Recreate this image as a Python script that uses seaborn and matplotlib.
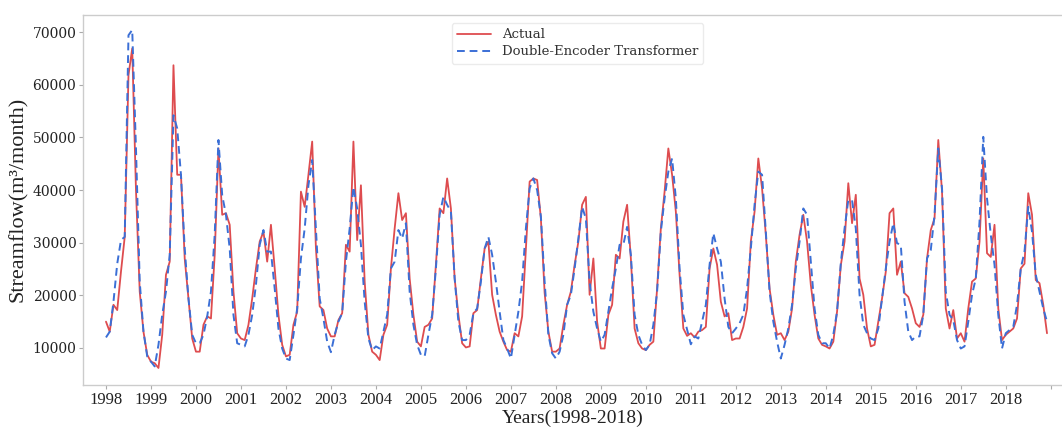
import numpy as np
import pandas as pd
import matplotlib
matplotlib.use("Agg")
import matplotlib.pyplot as plt
import seaborn as sns

# Monthly streamflow, Jan 1998 .. Dec 2018
actual = [
    15000, 13100, 18200, 17200, 24500, 31100, 61800, 66900, 40000, 20700, 13100, 8700,   # 1998
    7400, 7100, 6200, 12500, 23900, 26400, 63700, 42900, 42900, 27000, 19400, 11800,      # 1999
    9300, 9300, 14400, 16000, 15600, 27700, 47900, 35300, 35600, 33400, 20700, 12800,     # 2000
    11800, 11500, 14400, 19400, 25100, 30200, 32100, 26400, 33400, 25100, 16300, 10600,   # 2001
    8400, 8700, 14400, 16900, 39700, 36800, 42900, 49200, 28900, 17900, 17200, 13700,     # 2002
    12200, 12200, 15300, 16600, 29600, 28300, 49200, 30500, 40900, 22600, 12500, 9300,    # 2003
    8700, 7700, 12500, 14400, 25100, 32700, 39400, 34300, 35600, 23200, 16300, 11200,     # 2004
    10300, 14000, 14400, 15600, 25800, 36500, 35600, 42200, 36500, 23200, 16300, 10900,   # 2005
    10100, 10300, 16600, 17200, 23200, 28900, 30200, 20100, 16300, 13100, 11200, 9600,    # 2006
    9300, 12800, 12200, 16000, 28900, 41600, 42200, 41900, 34600, 20500, 13100, 9300,     # 2007
    9300, 9900, 14400, 18200, 20700, 25800, 30200, 37200, 38700, 20100, 27000, 15000,     # 2008
    9900, 9900, 16300, 18200, 27700, 27000, 34000, 37200, 27000, 13700, 10900, 9900,      # 2009
    9600, 10600, 11200, 21300, 32700, 39700, 47900, 42900, 35900, 23900, 13700, 12300,    # 2010
    12800, 12000, 13100, 13400, 14000, 25100, 28900, 25800, 18800, 16000, 16600, 11500,   # 2011
    11800, 11800, 14000, 17500, 30200, 35900, 46000, 40300, 31500, 21300, 16300, 12500,   # 2012
    12800, 11500, 13100, 17500, 26400, 31500, 35300, 30200, 22000, 16300, 11800, 10600,   # 2013
    10300, 9900, 11200, 16900, 25700, 30200, 41300, 33700, 39100, 23200, 20100, 13700,    # 2014
    10300, 10600, 15000, 19400, 24500, 35600, 36500, 23900, 26400, 20400, 19700, 17500,   # 2015
    14700, 14000, 16300, 27000, 32400, 34600, 49500, 39700, 17500, 13700, 17200, 11800,   # 2016
    12800, 11200, 17500, 22600, 23200, 30200, 46000, 28000, 27300, 33400, 17500, 11500,   # 2017
    12500, 13100, 13700, 15600, 25100, 26000, 39400, 35300, 22900, 22300, 18200, 12800,   # 2018
]

predicted = [
    12000, 13100, 18800, 26000, 30500, 31100, 69400, 70400, 47900, 22600, 13100, 8400,    # 1998
    7400, 6500, 10600, 16300, 20700, 27700, 54200, 51700, 42900, 28900, 19400, 12500,     # 1999
    10900, 10900, 12500, 16000, 20700, 31500, 49500, 39000, 35300, 28900, 16300, 10900,   # 2000
    10600, 10300, 12500, 16300, 22000, 29600, 32400, 28300, 28300, 21300, 13700, 9900,    # 2001
    8000, 7700, 12500, 17500, 27000, 32700, 40900, 45700, 32700, 19400, 15600, 11200,     # 2002
    9200, 12500, 15000, 16600, 26400, 32700, 40600, 36500, 29600, 18800, 11800, 9600,     # 2003
    10300, 9900, 13100, 16300, 25100, 26400, 32400, 30800, 33700, 20700, 14400, 10600,    # 2004
    8700, 8400, 12500, 16300, 25100, 35300, 38700, 37200, 35900, 23200, 15000, 11500,     # 2005
    11500, 12500, 16600, 17500, 22600, 28900, 31100, 27700, 22600, 16900, 11500, 9900,    # 2006
    8000, 12500, 16900, 22600, 32700, 40300, 42200, 40000, 35000, 22600, 12500, 9000,     # 2007
    8000, 9300, 12500, 18200, 20100, 25100, 30800, 36800, 34600, 22600, 16900, 13700,     # 2008
    11200, 12500, 16900, 21300, 25100, 29600, 29600, 33000, 27700, 16300, 12500, 10600,   # 2009
    9600, 10600, 14400, 20700, 32100, 38400, 43500, 46000, 38400, 25100, 16300, 13500,    # 2010
    10700, 12200, 11800, 15000, 18200, 25800, 31800, 28900, 26400, 19400, 14000, 12800,   # 2011
    13700, 14700, 16300, 21300, 28900, 37200, 43500, 42900, 32100, 20700, 15000, 11200,   # 2012
    8000, 10600, 13700, 18200, 25100, 30200, 36500, 35300, 26400, 17500, 12500, 10900,    # 2013
    10900, 9900, 12500, 16900, 26100, 32700, 38100, 38100, 32700, 20100, 14400, 12800,    # 2014
    11800, 11500, 13700, 19400, 25100, 30200, 33700, 29900, 29600, 18800, 13100, 11500,   # 2015
    12200, 12200, 16300, 27000, 28600, 35300, 47900, 40300, 20700, 16300, 15300, 11500,   # 2016
    9900, 10300, 15000, 20100, 23200, 34000, 50100, 38400, 31500, 25800, 16300, 9900,     # 2017
    12800, 13400, 14000, 18200, 25100, 28300, 36800, 32100, 23900, 20700, 17500, 15000,   # 2018
]

year_ticks = list(range(1998, 2020))
year_labels = [str(y) for y in range(1998, 2019)] + [""]
y_ticks = [10000, 20000, 30000, 40000, 50000, 60000, 70000]

months = np.arange(len(actual))
t = 1998 + months / 12.0
df = pd.DataFrame({"t": t, "Actual": actual, "Double-Encoder Transformer": predicted})

sns.set_style("ticks")
fig = plt.figure(figsize=(10.62, 4.28), dpi=100)
ax = fig.add_axes([0.0784, 0.1005, 0.9216, 0.8655])

sns.lineplot(data=df, x="t", y="Actual", ax=ax, color="#de4c4f", linewidth=1.3,
             label="Actual")
sns.lineplot(data=df, x="t", y="Double-Encoder Transformer", ax=ax, color="#3b6fd6",
             linewidth=1.4, linestyle=(0, (4, 2.5)), label="Double-Encoder Transformer")

ax.set_xlim(1997.495, 2019.25)
ax.set_ylim(2970, 73330)
ax.set_xticks(year_ticks)
ax.set_xticklabels(year_labels, fontfamily="Liberation Serif", fontsize=12, color="#222222")
ax.set_yticks(y_ticks)
ax.set_yticklabels([str(v) for v in y_ticks], fontfamily="DejaVu Serif", fontsize=10,
                   color="#222222")
ax.tick_params(axis="both", length=3, width=0.8, color="#aaaaaa", pad=2)

for side in ["left", "bottom", "top"]:
    ax.spines[side].set_color("#cccccc")
    ax.spines[side].set_linewidth(1.0)
ax.spines["right"].set_visible(False)

ax.set_xlabel("Years(1998-2018)", fontfamily="Liberation Serif", fontsize=14, color="#222222",
              labelpad=1)
ax.set_ylabel("Streamflow(m³/month)", fontfamily="Liberation Serif", fontsize=16,
              color="#222222", labelpad=3)

leg = ax.legend(loc="upper center", bbox_to_anchor=(0.505, 0.995),
                prop={"family": "DejaVu Serif", "size": 9.5}, frameon=True,
                handlelength=2.6, handletextpad=0.8, borderpad=0.4, labelspacing=0.3)
leg.get_frame().set_edgecolor("#e6e6e6")
for txt in leg.get_texts():
    txt.set_color("#333333")

fig.savefig("out.png", dpi=100)
